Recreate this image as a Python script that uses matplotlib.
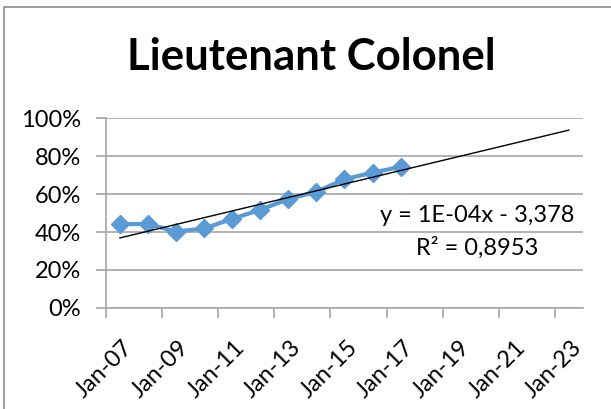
import numpy as np
import pandas as pd
import matplotlib
matplotlib.use('Agg')
import matplotlib.pyplot as plt
import matplotlib.dates as mdates
import matplotlib.transforms as mtransforms
from matplotlib.patches import Rectangle

# Share of Lieutenant Colonels, one point per year (mid-year)
dates = pd.to_datetime(['2007-07-01', '2008-07-01', '2009-07-01', '2010-07-01',
                        '2011-07-01', '2012-07-01', '2013-07-01', '2014-07-01',
                        '2015-07-01', '2016-07-01', '2017-07-01'])
share = [0.442, 0.442, 0.402, 0.419, 0.469, 0.517, 0.573, 0.611, 0.678, 0.712, 0.743]

trend_end = pd.Timestamp('2023-07-01')
x_min = pd.Timestamp('2007-01-01')
x_max = pd.Timestamp('2024-01-01')
tick_years = [2007, 2009, 2011, 2013, 2015, 2017, 2019, 2021, 2023]
y_ticks = [0, 0.2, 0.4, 0.6, 0.8, 1.0]

equation = 'y = 1E-04x - 3,378'
r_squared = 'R² = 0,8953'

plt.rcParams['font.family'] = ['Lato', 'DejaVu Sans']

fig = plt.figure(figsize=(6.11, 4.09), dpi=100)
fig.patches.append(Rectangle((4 / 611, -0.1), 1.2, (1 - 7 / 409) + 0.1,
                             transform=fig.transFigure, fill=False,
                             edgecolor='#8c8c8c', linewidth=1.2))

ax = fig.add_axes([106 / 611, 1 - 308 / 409, (583 - 106) / 611, (308 - 118) / 409])

xnum = mdates.date2num(dates)
ax.plot(dates, share, color='#5b9bd5', linewidth=3, marker='D', markersize=9.5, zorder=3)

# linear trend, forecast forward to 2023
coef = np.polyfit(xnum, share, 1)
tx = np.array([xnum[0], mdates.date2num(trend_end)])
ax.plot(mdates.num2date(tx), np.polyval(coef, tx), color='black', linewidth=1.0, zorder=4)

ax.set_xlim(x_min, x_max)
ax.set_ylim(0, 1.0)
ax.set_yticks(y_ticks)
ax.yaxis.set_major_formatter(plt.FuncFormatter(lambda v, p: f'{v * 100:.0f}%'))
ax.set_xticks([pd.Timestamp(f'{y}-01-01') for y in tick_years])
ax.xaxis.set_major_formatter(mdates.DateFormatter('%b-%y'))

ax.grid(axis='y', color='#a6a6a6', linewidth=1.2)
ax.set_axisbelow(True)
for s in ['top', 'right']:
    ax.spines[s].set_visible(False)
ax.spines['left'].set_color('#a6a6a6')
ax.spines['bottom'].set_color('#a6a6a6')
ax.spines['left'].set_linewidth(1.2)
ax.spines['bottom'].set_linewidth(1.2)
ax.tick_params(axis='both', color='#a6a6a6', length=7, width=1.2, labelsize=17)
ax.tick_params(axis='y', pad=11)
ax.tick_params(axis='x', pad=4)

# shift rotated date labels so they sit under their ticks like Excel does
offset = mtransforms.ScaledTranslation(16 / 100, -13 / 100, fig.dpi_scale_trans)
for lab in ax.get_xticklabels():
    lab.set_rotation(45)
    lab.set_ha('right')
    lab.set_rotation_mode('anchor')
    lab.set_transform(lab.get_transform() + offset)

ax.text(477 / 611, 1 - 215 / 409, equation, transform=fig.transFigure,
        ha='center', va='center', fontsize=17)
ax.text(477 / 611, 1 - 248 / 409, r_squared, transform=fig.transFigure,
        ha='center', va='center', fontsize=17)

fig.text(311 / 611, 1 - 57 / 409, 'Lieutenant Colonel', ha='center', va='center',
         fontsize=31.5, fontweight='bold')

fig.savefig('out.png', dpi=100)
